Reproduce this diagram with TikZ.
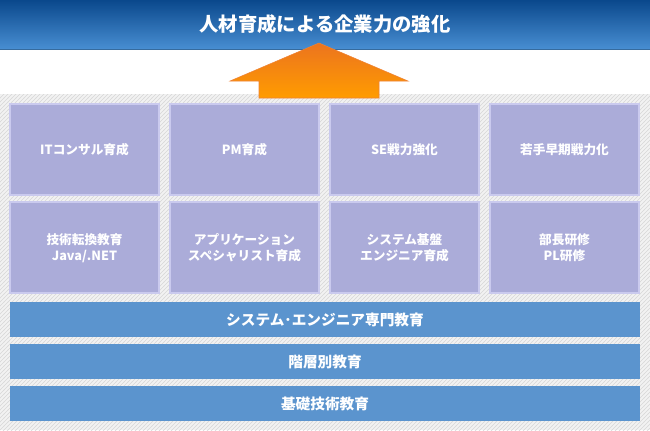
\documentclass[tikz,border=0pt]{standalone}
\usepackage{fontspec}
\setmainfont{Noto Sans CJK JP}
\usetikzlibrary{patterns}

\definecolor{titletop}{RGB}{10,72,140}
\definecolor{titlebot}{RGB}{72,142,210}
\definecolor{arrowtop}{RGB}{236,116,30}
\definecolor{arrowbot}{RGB}{255,156,0}
\definecolor{boxfill}{RGB}{171,172,217}
\definecolor{boxline}{RGB}{202,202,238}
\definecolor{barfill}{RGB}{91,148,206}

\begin{document}
\begin{tikzpicture}[x=0.75pt,y=-0.75pt,
  lbl/.style={text=white,font=\bfseries\fontsize{9.5}{12}\selectfont,align=center,inner sep=0pt},
  barlbl/.style={text=white,font=\bfseries\fontsize{11}{12}\selectfont,inner sep=0pt},
  tile/.style={fill=boxfill,draw=boxline,line width=1.5pt}]
  \useasboundingbox (0,0) rectangle (650,430);
  % the hatched ground
  \fill[black!5] (0,94) rectangle (650,430);
  \fill[pattern=north east lines,pattern color=black!16] (0,94) rectangle (650,430);
  % the title band
  \shade[top color=titletop,bottom color=titlebot] (0,0) rectangle (650,49);
  \draw[titlebot!75!black] (0,49) -- (650,49);
  \node[text=white,font=\bfseries\fontsize{14.5}{16}\selectfont] (title) at (325,24) {人材育成による企業力の強化};
  % the arrow up to it
  \shade[top color=arrowtop,bottom color=arrowbot,draw=arrowtop!90!white]
    (319,43) -- (408,81) -- (379,81) -- (379,98) -- (259,98) -- (259,81) -- (230,81) -- cycle;
  % the eight tiles
  \foreach \x/\t [count=\i] in {10/{ITコンサル育成},170/{PM育成},330/{SE戦力強化},490/{若手早期戦力化}} {
    \draw[tile] (\x,104) rectangle (\x+149,195);
    \node[lbl] (top\i) at (\x+74.5,150) {\t};
  }
  \foreach \x/\t [count=\i] in {10/{技術転換教育\\Java/.NET},170/{アプリケーション\\スペシャリスト育成},330/{システム基盤\\エンジニア育成},490/{部長研修\\PL研修}} {
    \draw[tile] (\x,202) rectangle (\x+149,293);
    \node[lbl] (low\i) at (\x+74.5,248) {\t};
  }
  % the three bars
  \foreach \y/\t [count=\i] in {302/{システム･エンジニア専門教育},344/{階層別教育},386/{基礎技術教育}} {
    \fill[barfill] (10,\y) rectangle (640,\y+35);
    \node[barlbl] (bar\i) at (325,\y+17.5) {\t};
  }
\end{tikzpicture}
\end{document}
